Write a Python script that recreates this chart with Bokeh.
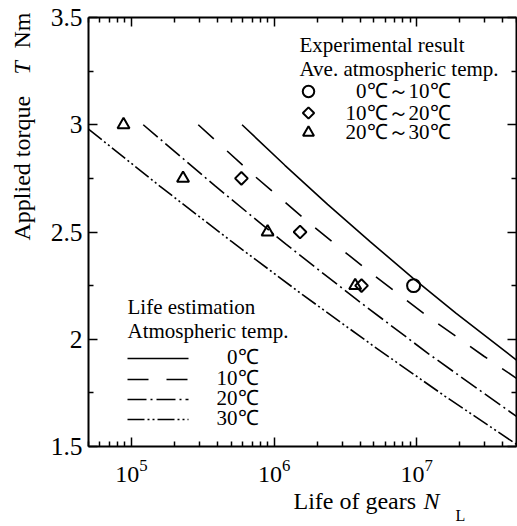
import math
from bokeh.plotting import figure
from bokeh.models import LogAxis, LinearAxis, FixedTicker, Label
from bokeh.embed import file_html
from bokeh.resources import INLINE

FONT = "Liberation Serif"

# ---------------- data ----------------
# Life estimation curves: number of cycles N_L and applied torque T (Nm)
est_0C_N = [5.96e5, 1.19e6, 2.37e6, 4.73e6, 9.44e6, 1.88e7, 5.0e7]
est_0C_T = [3.0, 2.811, 2.629, 2.454, 2.284, 2.122, 1.903]

est_10C_N = [2.94e5, 7.38e5, 1.85e6, 4.66e6, 1.17e7, 2.94e7, 5.0e7]
est_10C_T = [3.0, 2.758, 2.530, 2.314, 2.111, 1.922, 1.818]

est_20C_N = [1.21e5, 3.84e5, 1.21e6, 3.84e6, 1.21e7, 5.0e7]
est_20C_T = [3.0, 2.716, 2.443, 2.182, 1.932, 1.64]

est_30C_N = [5.0e4, 1.58e5, 5.0e5, 1.58e6, 5.0e6, 1.58e7, 5.0e7]
est_30C_T = [2.98, 2.714, 2.457, 2.208, 1.967, 1.734, 1.51]

# Experimental results
exp_0_10_N = [9.5e6]
exp_0_10_T = [2.25]
exp_10_20_N = [5.9e5, 1.52e6, 4.1e6]
exp_10_20_T = [2.75, 2.5, 2.25]
exp_20_30_N = [8.8e4, 2.3e5, 9.0e5, 3.7e6]
exp_20_30_T = [3.0, 2.75, 2.5, 2.25]

est_labels = ["0℃", "10℃", "20℃", "30℃"]
exp_labels = ["0℃～10℃", "10℃～20℃", "20℃～30℃"]

x_major = [1e5, 1e6, 1e7]
y_major = [1.5, 2.0, 2.5, 3.0, 3.5]
y_minor = [1.75, 2.25, 2.75, 3.25]
y_labels = {1.5: "1.5", 2.0: "2", 2.5: "2.5", 3.0: "3", 3.5: "3.5"}

X_LO, X_HI = 5e4, 5e7      # plotted box limits
Y_LO, Y_HI = 1.5, 3.5

# ---------------- layout (screen pixels) ----------------
W, H = 517, 526
BOX_L, BOX_R, BOX_T, BOX_B = 88, 516, 17, 446
PXD = (BOX_R - BOX_L) / (math.log10(X_HI) - math.log10(X_LO))
PYD = (BOX_B - BOX_T) / (Y_HI - Y_LO)

xr = (10 ** (math.log10(X_LO) - BOX_L / PXD),
      10 ** (math.log10(X_HI) + (W - BOX_R) / PXD))
yr = (Y_LO - (H - BOX_B) / PYD, Y_HI + BOX_T / PYD)


def sx_to_x(sx):
    return 10 ** (math.log10(X_LO) + (sx - BOX_L) / PXD)


def sy_to_y(sy):
    return Y_HI - (sy - BOX_T) / PYD


p = figure(width=W, height=H, x_axis_type="log", x_range=xr, y_range=yr,
           x_axis_location=None, y_axis_location=None,
           min_border=0, min_border_left=0, min_border_right=0,
           min_border_top=0, min_border_bottom=0,
           output_backend="svg", toolbar_location=None,
           background_fill_color="white", border_fill_color="white")
p.grid.visible = False
p.outline_line_color = None

x_minor = [m * 10 ** e for e in range(4, 8) for m in range(2, 10)
           if X_LO <= m * 10 ** e <= X_HI]
xticker = FixedTicker(ticks=x_major, minor_ticks=x_minor)
yticker = FixedTicker(ticks=y_major, minor_ticks=y_minor)


def style_axis(ax, size=None):
    ax.axis_line_color = "black"
    ax.axis_line_width = 2
    ax.major_tick_in = 9
    ax.major_tick_out = 0
    ax.minor_tick_in = 5
    ax.minor_tick_out = 0
    ax.major_tick_line_width = 1.5
    ax.minor_tick_line_width = 1.5
    ax.major_tick_line_color = "black"
    ax.minor_tick_line_color = "black"
    ax.major_label_text_font = FONT
    ax.major_label_text_color = "black"
    if size:
        ax.major_label_text_font_size = size
    else:
        ax.major_label_text_font_size = "1px"
        ax.major_label_text_alpha = 0
        ax.major_label_standoff = 0


bottom = LogAxis(ticker=xticker, fixed_location=Y_LO, bounds=(X_LO, X_HI))
style_axis(bottom, "24px")
bottom.major_label_standoff = 13
p.add_layout(bottom, "below")

top = LogAxis(ticker=xticker, fixed_location=Y_HI, bounds=(X_LO, X_HI))
style_axis(top)
p.add_layout(top, "above")

left = LinearAxis(ticker=yticker, fixed_location=X_LO, bounds=(Y_LO, Y_HI),
                  major_label_overrides=y_labels)
style_axis(left, "25.5px")
left.major_label_standoff = 6
p.add_layout(left, "left")

right = LinearAxis(ticker=yticker, fixed_location=X_HI, bounds=(Y_LO, Y_HI))
style_axis(right)
p.add_layout(right, "right")

# ---------------- curves ----------------
LW = 1.6
DASHES = [None, "21 18", "19 4 2 4", "17 3 2 3 2 3"]
est_N = [est_0C_N, est_10C_N, est_20C_N, est_30C_N]
est_T = [est_0C_T, est_10C_T, est_20C_T, est_30C_T]
for n, t, d in zip(est_N, est_T, DASHES):
    kw = {} if d is None else {"line_dash": d}
    p.line(n, t, line_color="black", line_width=LW, **kw)

MARKERS = [dict(marker="circle", size=13),
           dict(marker="square", size=9, angle=math.pi / 4),
           dict(marker="triangle", size=12)]
LEG_MARKERS = [dict(marker="circle", size=11.5),
               dict(marker="square", size=8, angle=math.pi / 4),
               dict(marker="triangle", size=11)]
exp_N = [exp_0_10_N, exp_10_20_N, exp_20_30_N]
exp_T = [exp_0_10_T, exp_10_20_T, exp_20_30_T]
for n, t, m in zip(exp_N, exp_T, MARKERS):
    p.scatter(n, t, fill_color=None, line_color="black", line_width=2, **m)

K_BASE = 0.36   # empirical correction: wanted baseline -> label anchor


def add_text(sx, sy, text, size=21, style="normal", angle=0.0,
             align="left"):
    if angle:
        sx = sx - K_BASE * size
    else:
        sy = sy - K_BASE * size
    p.add_layout(Label(x=sx_to_x(sx), y=sy_to_y(sy), text=text,
                       x_units="data", y_units="data",
                       text_font=FONT, text_font_size=f"{size}px",
                       text_font_style=style, text_color="black",
                       text_align=align, text_baseline="alphabetic",
                       angle=angle))


# ---------------- legend: experimental result (top right) ----------------
add_text(299, 52, "Experimental result")
add_text(299, 76, "Ave. atmospheric temp.")
for i, (lab, m) in enumerate(zip(exp_labels, LEG_MARKERS)):
    row_y = [91, 112.5, 132][i]
    p.scatter([sx_to_x(308)], [sy_to_y(row_y)], fill_color=None,
              line_color="black", line_width=2, **m)
    add_text(450, row_y + 7.5, lab, align="right")

# ---------------- legend: life estimation (bottom left) ----------------
add_text(127, 314, "Life estimation")
add_text(127, 338, "Atmospheric temp.")
for i, (lab, d) in enumerate(zip(est_labels, DASHES)):
    row_y = [358, 379, 399, 419][i]
    kw = {} if d is None else {"line_dash": d}
    p.line([sx_to_x(127), sx_to_x(188)], [sy_to_y(row_y)] * 2,
           line_color="black", line_width=LW, **kw)
    add_text(258, row_y + 6.5, lab, align="right")

# ---------------- axis titles ----------------
add_text(293, 509, "Life of gears", size=24)
add_text(423, 509, "N", size=24, style="italic")
add_text(455, 521, "L", size=16)
add_text(30, 240, "Applied torque", size=24, angle=math.pi / 2)
add_text(30, 74, "T", size=24, style="italic", angle=math.pi / 2)
add_text(30, 48, "Nm", size=24, angle=math.pi / 2)

open("out.html", "w").write(file_html(p, INLINE))
